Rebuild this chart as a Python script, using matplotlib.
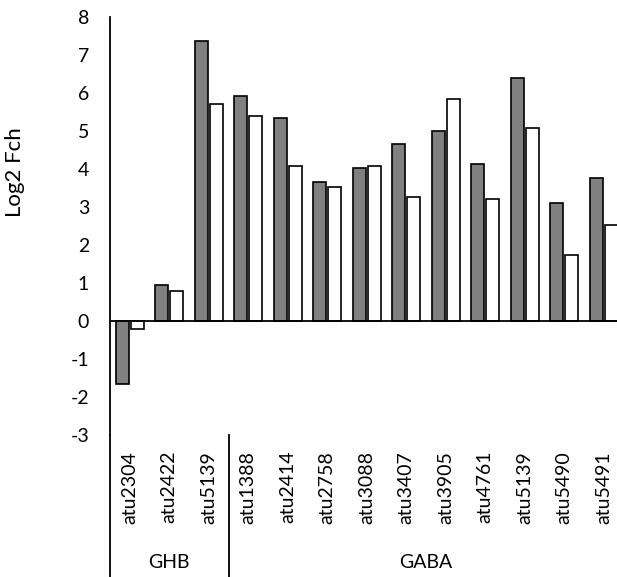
import matplotlib.pyplot as plt
import numpy as np

# ======================== DATA ======================================
genes = ["atu2304", "atu2422", "atu5139",
         "atu1388", "atu2414", "atu2758", "atu3088", "atu3407",
         "atu3905", "atu4761", "atu5139", "atu5490", "atu5491"]
grey_vals = [-1.65, 0.95, 7.38, 5.91, 5.33, 3.66, 4.03, 4.67, 4.99, 4.13, 6.39, 3.11, 3.77]
white_vals = [-0.20, 0.78, 5.71, 5.39, 4.08, 3.53, 4.09, 3.26, 5.83, 3.21, 5.07, 1.75, 2.53]
groups = ["GHB", "GABA"]
group_sizes = [3, 10]
yticks = list(range(-3, 9))

# ======================== PLOT ======================================
plt.rcParams['font.family'] = ['Lato', 'DejaVu Sans']

fig = plt.figure(figsize=(6.17, 5.77), dpi=100)
# axes right edge runs past the figure, as in the cropped original
ax = fig.add_axes([110 / 617, 142 / 577, 513.5 / 617, 418 / 577])

x = np.arange(len(genes))
ax.bar(x - 0.19, grey_vals, width=0.33, color="#808080", edgecolor="black", linewidth=1.2, zorder=2)
ax.bar(x + 0.19, white_vals, width=0.33, color="white", edgecolor="black", linewidth=1.2, zorder=2)

ax.set_xlim(-0.5, len(genes) - 0.5)
ax.set_ylim(-3, 8)
ax.set_yticks(yticks)
ax.set_yticklabels([str(t) for t in yticks], fontsize=14)
ax.set_xticks(x)
ax.set_xticklabels(genes, rotation=90, fontsize=14, va="top")
ax.tick_params(axis="both", length=0)
ax.tick_params(axis="x", pad=11.5)
ax.tick_params(axis="y", pad=15)

for s in ["top", "right", "bottom"]:
    ax.spines[s].set_visible(False)
ax.spines["left"].set_linewidth(1.3)
ax.axhline(0, color="black", linewidth=1.3, zorder=3)

ax.set_ylabel("Log2 Fch", fontsize=16)
ax.yaxis.set_label_coords(-0.1655, 0.629)

# multi-level category axis below the plot
trans = ax.get_xaxis_transform()
low = -0.345
ax.plot([0, 0], [0, low], transform=ax.transAxes, color="black", linewidth=1.3, clip_on=False)
start = 0
for name, n in zip(groups, group_sizes):
    mid = start + (n - 1) / 2
    ax.text(mid, -0.306, name, transform=trans, ha="center", va="center", fontsize=14)
    start += n
    if start < len(genes):
        ax.plot([start - 0.5, start - 0.5], [0, low], transform=trans, color="black",
                linewidth=1.3, clip_on=False)

fig.savefig("out.png", dpi=100)
